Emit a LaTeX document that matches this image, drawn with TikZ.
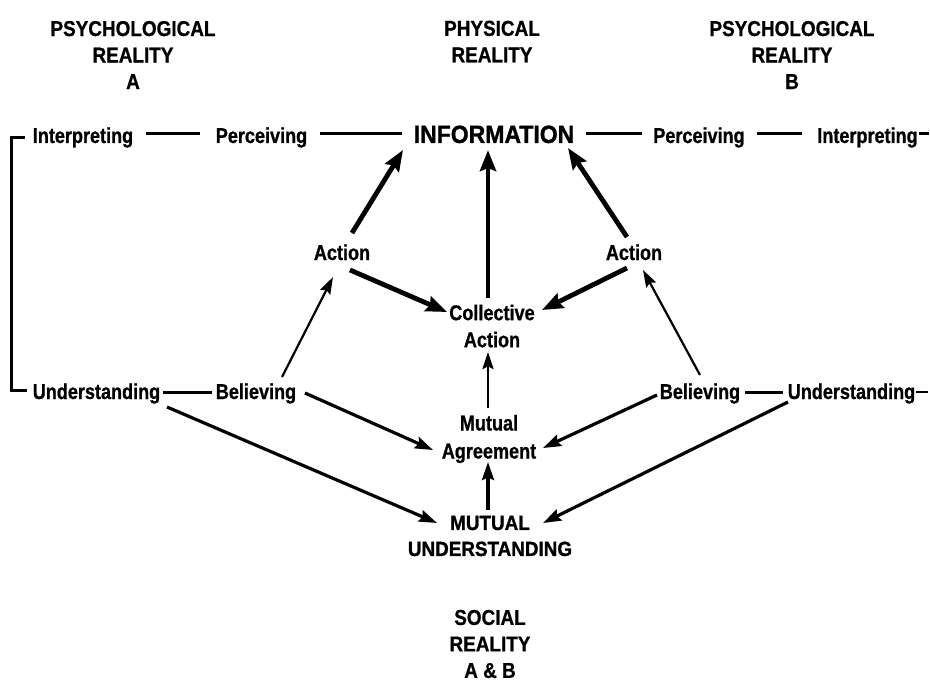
\documentclass[tikz,border=0pt]{standalone}
\usepackage{fontspec}
\setmainfont{Liberation Sans}
\newfontfamily\labfont{Liberation Sans}[FakeStretch=0.84, FakeBold=0.8]
\newfontfamily\hdrfont{Liberation Sans}[FakeStretch=0.88, FakeBold=0.8]
\newfontfamily\infofont{Liberation Sans}[FakeStretch=0.92, FakeBold=1.2]
\usetikzlibrary{arrows.meta,calc}
\begin{document}
\begin{tikzpicture}[x=1pt,y=-1pt,
  lab/.style={font=\labfont\bfseries\fontsize{21.5}{27}\selectfont, inner sep=1pt, text height=15pt, text depth=4pt},
  ml/.style={font=\labfont\bfseries\fontsize{21.5}{27}\selectfont, inner sep=1pt, align=center},
  hdr/.style={font=\hdrfont\bfseries\fontsize{21.5}{26.5}\selectfont, inner sep=0pt, align=center},
  big/.style={font=\infofont\bfseries\fontsize{25}{30}\selectfont, inner sep=1pt, text height=18pt, text depth=0pt},
  mub/.style={font=\infofont\bfseries\fontsize{20.5}{26}\selectfont, inner sep=1pt, align=center},
  thk/.style={line width=4.8pt, -{Stealth[length=21pt,width=16pt,inset=3pt]}},
  med/.style={line width=3.2pt, -{Stealth[length=18pt,width=12pt,inset=2.5pt]}},
  thn/.style={line width=2.2pt, -{Stealth[length=17pt,width=11pt,inset=2.5pt]}},
  dsh/.style={line width=2.5pt},
  brk/.style={line width=3pt}
]
\useasboundingbox (0,0) rectangle (930,682);

% headers
\node[hdr] (hA) at (133,55) {PSYCHOLOGICAL\\REALITY\\A};
\node[hdr] (hP) at (492,41.5) {PHYSICAL\\REALITY};
\node[hdr] (hB) at (792,55) {PSYCHOLOGICAL\\REALITY\\B};
\node[hdr] (soc) at (490,644) {SOCIAL\\REALITY\\A \& B};

% row 1
\node[lab] (int1) at (83,137.5) {Interpreting};
\node[lab] (per1) at (261.5,137.5) {Perceiving};
\node[big] (info) at (494,134) {INFORMATION};
\node[lab] (per2) at (699,137.5) {Perceiving};
\node[lab] (int2) at (867.5,137.5) {Interpreting};
\coordinate (endA) at (929,133.5);

% middle
\node[lab] (actL) at (342,254.5) {Action};
\node[lab] (actR) at (634,254.5) {Action};
\node[ml] (coll) at (492,326) {Collective\\Action};

% row 2
\node[lab] (undL) at (96.5,393.5) {Understanding};
\node[lab] (belL) at (256,393.5) {Believing};
\node[lab] (belR) at (700,393.5) {Believing};
\node[lab] (undR) at (851.5,393.5) {Understanding};
\coordinate (endB) at (928,392);

\node[ml, font=\labfont\bfseries\fontsize{21.5}{28}\selectfont] (ma) at (489,439) {Mutual\\Agreement};
\node[mub] (mu) at (490,536) {MUTUAL\\UNDERSTANDING};

% dashes row 1
\draw[dsh] ([xshift=12pt,yshift=4pt]int1.east) -- ([xshift=-15pt,yshift=4pt]per1.west);
\draw[dsh] ([xshift=12pt,yshift=4pt]per1.east) -- ([xshift=-11pt]info.west |- 0,133.5);
\draw[dsh] ([xshift=11pt]info.east |- 0,133.5) -- ([xshift=-10pt,yshift=4pt]per2.west);
\draw[dsh] ([xshift=11pt,yshift=4pt]per2.east) -- ([xshift=-14pt,yshift=4pt]int2.west);
\draw[dsh] ([yshift=4pt]int2.east) -- (endA);

% bracket
\draw[brk] ([xshift=-7pt]int1.west) -- ++(-13,0) |- ([xshift=-5pt,yshift=3.5pt]undL.west);

% dashes row 2
\draw[dsh] ([xshift=2pt,yshift=1pt]undL.east) -- ([xshift=-3pt,yshift=1pt]belL.west);
\draw[dsh] ([xshift=4pt,yshift=1pt]belR.east) -- ([xshift=-4pt,yshift=1pt]undR.west);
\draw[dsh] ([yshift=1.5pt]undR.east) -- (endB);

% thick arrows
\draw[thk] ($(actL)+(10,-21.5)$) -- ($(info)+(-91,16)$);
\draw[thk] ($(coll)+(-4,-28)$) -- ($(info)+(-6,16)$);
\draw[thk] ($(actR)+(-7,-17.5)$) -- ($(info)+(74,14)$);
\draw[thk] ($(actL)+(8,15.5)$) -- ($(coll)+(-45,-14)$);
\draw[thk] ($(actR)+(-7,13.5)$) -- ($(coll)+(50,-16)$);

% thin arrows
\draw[thn] ($(belL)+(26,-16.5)$) -- ($(actL)+(-9,22.5)$);
\draw[thn] ($(belR)+(0,-18.5)$) -- ($(actR)+(9,15.5)$);
\draw[thn] ($(ma)+(-1,-31)$) -- ($(coll)+(-4,26)$);

% medium arrows
\draw[med] ($(mu)+(-2,-26)$) -- ($(ma)+(-1,23)$);
\draw[med] ($(belL)+(49,-0.5)$) -- ($(ma)+(-56,11)$);
\draw[med] ($(belR)+(-43,1.5)$) -- ($(ma)+(54,9)$);
\draw[med] ($(undL)+(70.5,13.5)$) -- ($(mu)+(-53,-13)$);
\draw[med] ($(undR)+(-63.5,8.5)$) -- ($(mu)+(53,-13)$);
\end{tikzpicture}
\end{document}
